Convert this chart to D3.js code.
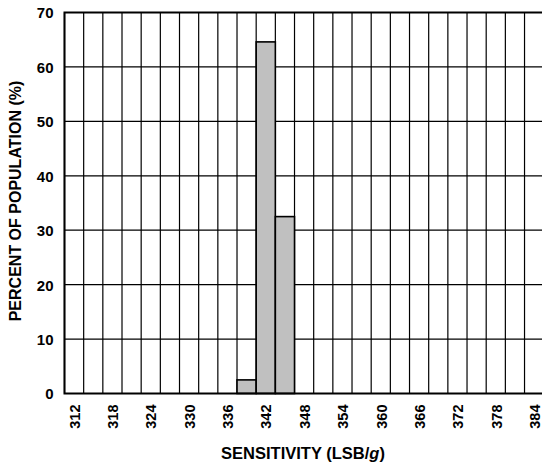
<!DOCTYPE html>
<html>
<head>
<meta charset="utf-8">
<script src="https://cdn.jsdelivr.net/npm/d3@7"></script>
<style>
  body { margin: 0; background: #fff; }
  text { font-family: "Liberation Sans", Arial, sans-serif; font-weight: bold; fill: #000; }
</style>
</head>
<body>
<svg id="chart"></svg>
<script>
const binCenters = [339, 342, 345];
const percents = [2.5, 64.6, 32.5];
const xTicks = [312, 318, 324, 330, 336, 342, 348, 354, 360, 366, 372, 378, 384];
const yTicks = [0, 10, 20, 30, 40, 50, 60, 70];

const width = 542;
const height = 467;
const binWidth = 3;

const x = d3.scaleLinear().domain([310.5, 385.5]).range([64.5, 543.7]);
const y = d3.scaleLinear().domain([0, 70]).range([393.5, 12.5]);

const svg = d3.select('#chart')
              .attr('width', width)
              .attr('height', height);

// vertical grid every bin edge
const edges = d3.range(310.5, 386, binWidth);
svg.append('g')
   .selectAll('line')
   .data(edges)
   .enter()
   .append('line')
   .attr('x1', d => x(d)).attr('x2', d => x(d))
   .attr('y1', y(0)).attr('y2', y(70))
   .attr('stroke', '#000')
   .attr('stroke-width', 1.2);

// horizontal grid
svg.append('g')
   .selectAll('line')
   .data(yTicks)
   .enter()
   .append('line')
   .attr('x1', x(310.5)).attr('x2', x(385.5))
   .attr('y1', d => y(d)).attr('y2', d => y(d))
   .attr('stroke', '#000')
   .attr('stroke-width', 1.2);

// bars
svg.append('g')
   .selectAll('rect')
   .data(binCenters)
   .enter()
   .append('rect')
   .attr('x', d => x(d - binWidth / 2))
   .attr('width', x(binWidth) - x(0))
   .attr('y', (d, i) => y(percents[i]))
   .attr('height', (d, i) => y(0) - y(percents[i]))
   .attr('fill', '#c0c0c0')
   .attr('stroke', '#000')
   .attr('stroke-width', 1.6);

// frame
svg.append('rect')
   .attr('x', x(310.5))
   .attr('y', y(70))
   .attr('width', x(385.5) - x(310.5))
   .attr('height', y(0) - y(70))
   .attr('fill', 'none')
   .attr('stroke', '#000')
   .attr('stroke-width', 2);

// y axis labels
const yAxis = d3.axisLeft(y).tickValues(yTicks).tickSize(0).tickPadding(0);
const gy = svg.append('g')
              .attr('transform', `translate(${x(310.5) - 11}, 0)`)
              .call(yAxis);
gy.select('.domain').remove();
gy.selectAll('text')
  .style('font-size', '15px')
  .style('font-family', '"Liberation Sans", Arial, sans-serif')
  .style('font-weight', 'bold')
  .attr('dy', '0.36em');

// x axis labels, rotated
const xAxis = d3.axisBottom(x).tickValues(xTicks).tickSize(0).tickPadding(0);
const gx = svg.append('g')
              .attr('transform', `translate(0, ${y(0)})`)
              .call(xAxis);
gx.select('.domain').remove();
gx.selectAll('text')
  .style('font-size', '14.5px')
  .style('font-family', '"Liberation Sans", Arial, sans-serif')
  .style('font-weight', 'bold')
  .attr('text-anchor', 'end')
  .attr('transform', 'rotate(-90)')
  .attr('x', -11)
  .attr('y', 0)
  .attr('dy', '0.36em');

// axis titles
svg.append('text')
   .attr('transform', 'translate(21, 201) rotate(-90)')
   .attr('text-anchor', 'middle')
   .style('font-size', '16px')
   .text('PERCENT OF POPULATION (%)');

const xt = svg.append('text')
   .attr('x', 303)
   .attr('y', 459)
   .attr('text-anchor', 'middle')
   .style('font-size', '16.5px');
xt.append('tspan').text('SENSITIVITY (LSB/');
xt.append('tspan').style('font-style', 'italic').text('g');
xt.append('tspan').text(')');
</script>
</body>
</html>
